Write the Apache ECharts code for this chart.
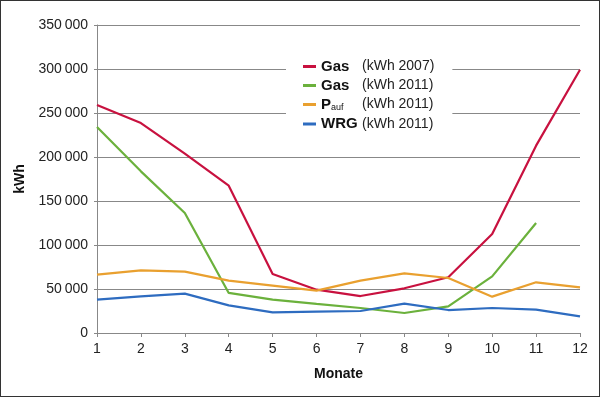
<!DOCTYPE html>
<html>
<head>
<meta charset="UTF-8">
<title>Gas Verbrauch</title>
<script src="https://cdn.jsdelivr.net/npm/echarts@6/dist/echarts.min.js"></script>
<style>
  body { margin: 0; background: #fff; }
  #container { width: 600px; height: 397px; box-sizing: border-box; border: 1px solid #333; }
</style>
</head>
<body>
<div id="container"></div>
<script>
    // Monate 1..12
    var monate = ['1', '2', '3', '4', '5', '6', '7', '8', '9', '10', '11', '12'];
    // Werte in kWh
    var gas2007 = [259000, 238600, 203800, 167400, 67000, 49200, 42000, 50800, 63300, 112500, 212900, 299200];
    var gas2011 = [234100, 183700, 136400, 45500, 37900, 33000, 28400, 22700, 30300, 64400, 125000, null];
    var pauf2011 = [66300, 71200, 69700, 59500, 53800, 48100, 59500, 67800, 62500, 41300, 57600, 51900];
    var wrg2011 = [37900, 41700, 44700, 31400, 23500, 24200, 25000, 33300, 26100, 28400, 26500, 18900];

    var font = '"Liberation Sans", Arial, sans-serif';

    var legendText = {
        'Gas 2007': '{b|Gas}{n|(kWh 2007)}',
        'Gas 2011': '{b|Gas}{n|(kWh 2011)}',
        'Pauf 2011': '{p|P}{s|auf}{n|(kWh 2011)}',
        'WRG 2011': '{b|WRG}{n|(kWh 2011)}'
    };

    var mychart = echarts.init(document.getElementById('container'));
    var option = {
        backgroundColor: '#fff',
        textStyle: { fontFamily: font },
        grid: { left: 96, right: 19, top: 24, bottom: 63 },
        legend: {
            orient: 'vertical',
            left: 285,
            top: 51,
            padding: [7, 18, 7, 17],
            backgroundColor: '#fff',
            itemWidth: 13,
            itemHeight: 3,
            itemGap: 4,
            icon: 'rect',
            data: ['Gas 2007', 'Gas 2011', 'Pauf 2011', 'WRG 2011'],
            formatter: function (name) { return legendText[name]; },
            textStyle: {
                fontFamily: font,
                rich: {
                    b: { fontSize: 15, fontWeight: 'bold', color: '#111', width: 41, fontFamily: font, lineHeight: 16 },
                    p: { fontSize: 15, fontWeight: 'bold', color: '#111', fontFamily: font, lineHeight: 16 },
                    s: { fontSize: 9, color: '#111', width: 31, fontFamily: font, verticalAlign: 'bottom', lineHeight: 11 },
                    n: { fontSize: 14, color: '#222', fontFamily: font, lineHeight: 16 }
                }
            }
        },
        xAxis: {
            type: 'category',
            data: monate,
            boundaryGap: false,
            name: 'Monate',
            nameLocation: 'middle',
            nameGap: 34,
            nameTextStyle: { fontSize: 14, fontWeight: 'bold', color: '#111', fontFamily: font },
            axisLine: { lineStyle: { color: '#888', width: 1 } },
            axisTick: { show: true, length: 4, lineStyle: { color: '#888' } },
            axisLabel: { fontSize: 14, color: '#222', margin: 9, fontFamily: font },
            splitLine: { show: false }
        },
        yAxis: {
            type: 'value',
            min: 0,
            max: 350000,
            interval: 50000,
            name: 'kWh',
            nameLocation: 'middle',
            nameRotate: 90,
            nameGap: 70,
            nameTextStyle: { fontSize: 14, fontWeight: 'bold', color: '#111', fontFamily: font },
            axisLine: { show: true, lineStyle: { color: '#888', width: 1 } },
            axisTick: { show: true, length: 3, lineStyle: { color: '#888' } },
            axisLabel: {
                fontSize: 14, color: '#222', margin: 9, fontFamily: font,
                formatter: function (v) {
                    return String(v).replace(/\B(?=(\d{3})+(?!\d))/g, '\u2009');
                }
            },
            splitLine: { show: true, lineStyle: { color: '#888', width: 1 } }
        },
        series: [
            { name: 'Gas 2007', type: 'line', data: gas2007, symbol: 'none', color: '#c8113f', lineStyle: { width: 2.2 } },
            { name: 'Gas 2011', type: 'line', data: gas2011, symbol: 'none', color: '#6bb13c', lineStyle: { width: 2.2 } },
            { name: 'Pauf 2011', type: 'line', data: pauf2011, symbol: 'none', color: '#e9a02f', lineStyle: { width: 2.2 } },
            { name: 'WRG 2011', type: 'line', data: wrg2011, symbol: 'none', color: '#2e6cc0', lineStyle: { width: 2.2 } }
        ]
    };
    mychart.setOption(option);
</script>
</body>
</html>
